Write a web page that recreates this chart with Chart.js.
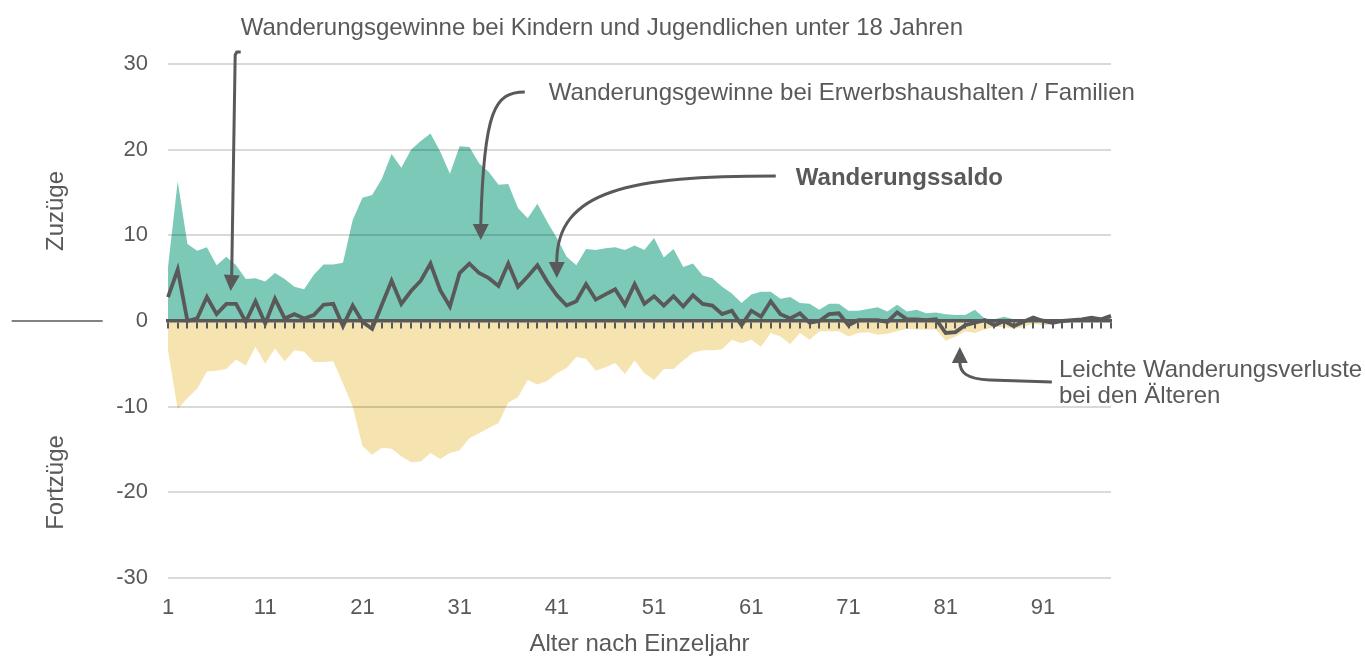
<!DOCTYPE html>
<html>
<head>
<meta charset="utf-8">
<script src="https://cdn.jsdelivr.net/npm/chart.js@4.4.1/dist/chart.umd.min.js"></script>
<style>
html,body{margin:0;padding:0;background:#ffffff;}
#wrap{width:1365px;height:659px;position:relative;}
</style>
</head>
<body>
<div id="wrap"><canvas id="c" width="1365" height="659"></canvas></div>
<script>
// ---- Data ----
const ages = [1,2,3,4,5,6,7,8,9,10,11,12,13,14,15,16,17,18,19,20,21,22,23,24,25,26,27,28,29,30,
  31,32,33,34,35,36,37,38,39,40,41,42,43,44,45,46,47,48,49,50,51,52,53,54,55,56,57,58,59,60,
  61,62,63,64,65,66,67,68,69,70,71,72,73,74,75,76,77,78,79,80,81,82,83,84,85,86,87,88,89,90,
  91,92,93,94,95,96,97,98];

const tickLabels = ['1','11','21','31','41','51','61','71','81','91'];
const yTicks = [-30,-20,-10,0,10,20,30];

// Zuzüge (gains, green area)
const zuzuege = [6.3,16.3,9.0,8.2,8.6,6.5,7.5,6.5,4.9,5.0,
  4.6,5.6,4.9,4.0,3.7,5.4,6.6,6.6,6.8,11.8,
  14.4,14.7,16.6,19.5,17.9,20.0,21.0,21.9,19.8,17.2,
  20.4,20.3,18.4,17.4,15.9,16.0,13.2,12.0,13.7,11.6,
  9.7,7.5,6.5,8.4,8.3,8.5,8.6,8.3,8.8,8.3,
  9.7,7.4,8.4,6.3,6.7,5.3,5.0,4.0,3.2,2.1,
  3.1,3.4,3.4,2.6,2.8,2.1,2.0,1.3,2.0,2.0,
  1.2,1.2,1.4,1.6,1.1,1.9,1.1,1.3,0.9,1.0,
  0.8,0.7,0.7,1.3,0.3,0.2,0.5,0.2,0.1,0.4,
  0.3,0.1,0.1,0.1,0.2,0.3,0.4,0.6];

// Fortzüge (losses, yellow area)
const fortzuege = [-3.4,-10.3,-9.0,-7.9,-5.9,-5.8,-5.6,-4.5,-5.2,-3.0,
  -5.0,-3.2,-4.7,-3.4,-3.6,-4.8,-4.8,-4.7,-7.3,-10.0,
  -14.6,-15.6,-14.8,-14.9,-15.8,-16.5,-16.4,-15.4,-16.1,-15.4,
  -15.1,-13.7,-13.1,-12.5,-11.9,-9.5,-8.9,-6.9,-7.4,-7.0,
  -6.1,-5.5,-4.2,-4.4,-5.8,-5.4,-4.9,-6.2,-4.6,-6.1,
  -6.9,-5.6,-5.6,-4.6,-3.7,-3.4,-3.4,-3.3,-2.2,-2.6,
  -2.2,-3.0,-1.4,-1.8,-2.7,-1.4,-2.2,-1.2,-1.2,-1.2,
  -1.8,-1.4,-1.3,-1.6,-1.5,-1.2,-0.9,-1.0,-1.0,-1.0,
  -2.3,-1.8,-1.2,-1.4,-1.0,-0.7,-0.7,-0.9,-0.7,-0.3,
  -0.5,-0.4,-0.2,-0.1,-0.1,0,0,0];

// Wanderungssaldo (net migration, dark line)
const saldo = [2.8,6.0,0.0,0.3,2.8,0.8,2.0,2.0,-0.1,2.3,
  -0.3,2.6,0.3,0.8,0.3,0.7,1.9,2.0,-0.6,1.8,
  -0.1,-0.9,1.9,4.7,2.0,3.5,4.7,6.7,3.6,1.7,
  5.6,6.7,5.6,5.0,4.1,6.7,4.0,5.2,6.5,4.6,
  3.0,1.8,2.3,4.3,2.5,3.1,3.7,1.9,4.3,2.0,
  2.9,1.8,2.9,1.7,3.0,2.0,1.8,0.8,1.2,-0.5,
  1.2,0.5,2.3,0.8,0.3,0.9,-0.2,0.0,0.8,0.9,
  -0.5,0.1,0.1,0.1,-0.1,1.0,0.2,0.2,0.1,0.2,
  -1.4,-1.3,-0.5,-0.2,0.1,-0.5,0.0,-0.6,-0.1,0.4,
  0.0,-0.2,0.0,0.1,0.2,0.4,0.2,0.6];

// ---- Styling ----
const FONT = "'Liberation Sans', Arial, Helvetica, sans-serif";
const TEXT = '#595959';
const GREEN = '#7cc9b8';
const YELLOW = '#f5e3b0';

// Annotations, positioned in data units (age, value)
const texts = [
  {t:'Wanderungsgewinne bei Kindern und Jugendlichen unter 18 Jahren', a:8.48, v:33.38, bold:false},
  {t:'Wanderungsgewinne bei Erwerbshaushalten / Familien', a:40.17, v:25.80, bold:false},
  {t:'Wanderungssaldo', a:65.58, v:15.87, bold:true},
  {t:'Leichte Wanderungsverluste', a:92.64, v:-6.54, bold:false},
  {t:'bei den Älteren', a:92.64, v:-9.57, bold:false}
];
const arrows = [
  {path:[['M',8.48,31.40],['L',8.07,31.40],['L',7.91,31.05],['L',7.55,5.25]], tip:[7.45,3.50]},
  {path:[['M',37.70,26.73],['C',34.61,26.73,33.48,24.63,33.17,11.21]], tip:[33.17,9.45]},
  {path:[['M',63.52,16.93],['C',48.53,16.93,40.99,15.29,40.99,6.89]], tip:[40.99,5.02]},
  {path:[['M',91.92,-7.12],['L',85.53,-6.89],['C',83.06,-6.77,82.45,-5.95,82.45,-4.79]], tip:[82.45,-3.03]}
];
const yTitles = [
  {t:'Zuzüge', a:-10.45, v:12.84},
  {t:'Fortzüge', a:-10.45, v:-18.85}
];
const leftRule = {a1:-15.08, a2:-5.72, v:0};

const annotationPlugin = {
  id:'annotations',
  afterDraw(chart){
    const ctx = chart.ctx;
    const xs = chart.scales.x, ys = chart.scales.y;
    const X = a => xs.getPixelForValue(a - 1);
    const Y = v => ys.getPixelForValue(v);
    ctx.save();
    ctx.fillStyle = TEXT;
    ctx.strokeStyle = TEXT;
    // left rule at zero
    ctx.lineWidth = 1.5;
    ctx.beginPath();
    ctx.moveTo(X(leftRule.a1), Y(leftRule.v));
    ctx.lineTo(X(leftRule.a2), Y(leftRule.v));
    ctx.stroke();
    // y titles
    yTitles.forEach(o => {
      ctx.save();
      ctx.translate(X(o.a), Y(o.v));
      ctx.rotate(-Math.PI/2);
      ctx.font = '24px ' + FONT;
      ctx.textAlign = 'center';
      ctx.textBaseline = 'middle';
      ctx.fillText(o.t, 0, 0);
      ctx.restore();
    });
    // texts
    texts.forEach(o => {
      ctx.font = (o.bold ? 'bold ' : '') + '24px ' + FONT;
      ctx.textAlign = 'left';
      ctx.textBaseline = 'alphabetic';
      ctx.fillText(o.t, X(o.a), Y(o.v));
    });
    // arrows
    ctx.lineWidth = 3;
    ctx.lineJoin = 'round';
    ctx.lineCap = 'butt';
    arrows.forEach(ar => {
      ctx.beginPath();
      ar.path.forEach(s => {
        if (s[0] === 'M') ctx.moveTo(X(s[1]), Y(s[2]));
        else if (s[0] === 'L') ctx.lineTo(X(s[1]), Y(s[2]));
        else if (s[0] === 'C') ctx.bezierCurveTo(X(s[1]),Y(s[2]),X(s[3]),Y(s[4]),X(s[5]),Y(s[6]));
      });
      ctx.stroke();
      const last = ar.path[ar.path.length-1];
      const bx = X(last[last.length-2]), by = Y(last[last.length-1]);
      const tx = X(ar.tip[0]), ty = Y(ar.tip[1]);
      const ang = Math.atan2(ty-by, tx-bx);
      const len = 16, half = 8;
      const cx = tx - len*Math.cos(ang), cy = ty - len*Math.sin(ang);
      ctx.beginPath();
      ctx.moveTo(tx, ty);
      ctx.lineTo(cx + half*Math.sin(ang), cy - half*Math.cos(ang));
      ctx.lineTo(cx - half*Math.sin(ang), cy + half*Math.cos(ang));
      ctx.closePath();
      ctx.fill();
    });
    ctx.restore();
  }
};

new Chart(document.getElementById('c'), {
  type:'line',
  data:{
    labels: ages,
    datasets:[
      {label:'Wanderungssaldo', data:saldo, borderColor:'#595959', borderWidth:3.8, pointRadius:0,
       fill:false, tension:0, borderJoinStyle:'miter', order:0},
      {label:'Zuzüge', data:zuzuege, backgroundColor:GREEN, borderColor:GREEN, borderWidth:0, pointRadius:0,
       fill:'origin', tension:0, order:1},
      {label:'Fortzüge', data:fortzuege, backgroundColor:YELLOW, borderColor:YELLOW, borderWidth:0, pointRadius:0,
       fill:'origin', tension:0, order:2}
    ]
  },
  options:{
    responsive:false,
    animation:false,
    events:[],
    layout:{padding:{left:0, right:254, top:64, bottom:0}},
    plugins:{legend:{display:false}, tooltip:{enabled:false}},
    scales:{
      x:{
        type:'category', offset:false,
        grid:{display:false, drawTicks:false},
        border:{display:false},
        ticks:{autoSkip:false, maxRotation:0, minRotation:0, padding:17, color:TEXT,
          font:{family:FONT, size:22},
          callback(v, i){ const l = String(ages[i]); return tickLabels.includes(l) ? l : ''; }},
        title:{display:true, text:'Alter nach Einzeljahr', color:TEXT, font:{family:FONT, size:24},
          padding:{top:0, bottom:0}},
        afterFit(s){ s.height = 81; }
      },
      x2:{
        type:'category', labels:ages, offset:false, position:{y:0},
        grid:{drawOnChartArea:false, drawTicks:true, tickLength:6, color:'#595959', lineWidth:2, z:2},
        border:{display:true, color:'#595959', width:3.5, z:2},
        ticks:{display:false}
      },
      y:{
        min:-30, max:30,
        afterBuildTicks(s){ s.ticks = yTicks.map(v => ({value:v})); },
        ticks:{padding:20, color:TEXT, font:{family:FONT, size:22}},
        grid:{drawTicks:false, lineWidth:2, z:1,
          color: c => (c.tick && c.tick.value === 0) ? 'rgba(0,0,0,0)' : 'rgba(0,0,0,0.15)'},
        border:{display:false},
        afterFit(s){ s.width = 168; }
      }
    }
  },
  plugins:[annotationPlugin]
});
</script>
</body>
</html>
